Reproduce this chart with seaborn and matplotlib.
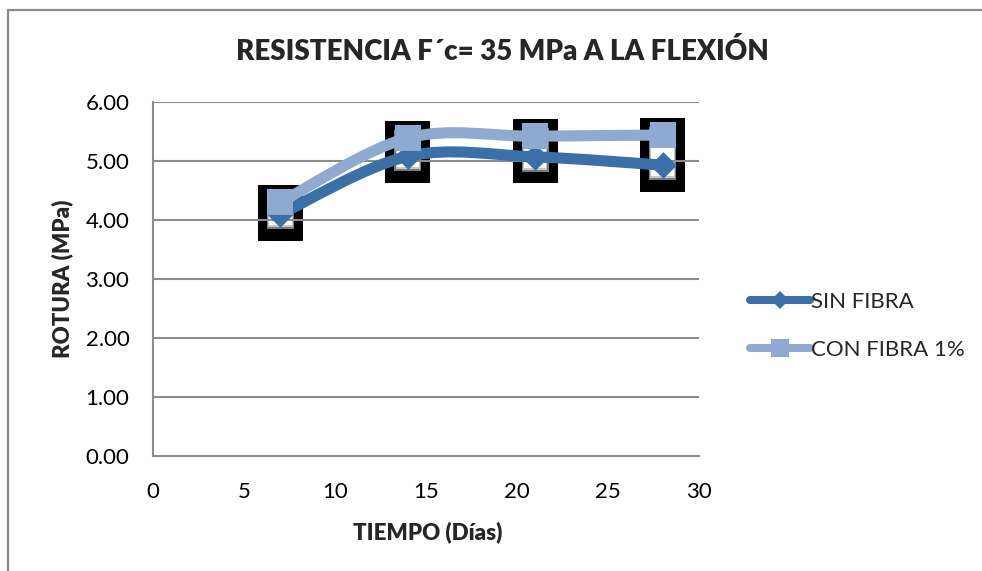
import numpy as np
import pandas as pd
import matplotlib
matplotlib.use("Agg")
import matplotlib.pyplot as plt
from matplotlib.path import Path
from matplotlib.patches import PathPatch, Rectangle
from matplotlib.lines import Line2D
import seaborn as sns

# Ensayo de flexión: días de curado y resistencia a la rotura (MPa)
dias = [7, 14, 21, 28]
sin_fibra = [4.10, 5.08, 5.07, 4.93]
con_fibra = [4.30, 5.39, 5.42, 5.44]
series_names = ["SIN FIBRA", "CON FIBRA 1%"]
x_ticks = [0, 5, 10, 15, 20, 25, 30]
y_ticks = [0, 1, 2, 3, 4, 5, 6]

COLOR_SIN = "#3A6FA8"
COLOR_CON = "#8FA9D1"
GRID = "#8C8C8C"

sns.set_theme(style="white")
plt.rcParams["font.family"] = ["Lato", "DejaVu Sans"]

df = pd.DataFrame({
    "dias": dias * 2,
    "rotura": sin_fibra + con_fibra,
    "serie": [series_names[0]] * len(dias) + [series_names[1]] * len(dias),
})


def smooth_path(xs, ys):
    """Cubic Bezier path through the points (Catmull-Rom style tangents)."""
    pts = np.column_stack([xs, ys]).astype(float)
    n = len(pts)
    verts = [pts[0]]
    codes = [Path.MOVETO]
    for i in range(n - 1):
        p0 = pts[i - 1] if i > 0 else pts[i]
        p1 = pts[i]
        p2 = pts[i + 1]
        p3 = pts[i + 2] if i + 2 < n else pts[i + 1]
        c1 = p1 + (p2 - p0) / 6.0
        c2 = p2 - (p3 - p1) / 6.0
        verts += [c1, c2, p2]
        codes += [Path.CURVE4] * 3
    return Path(verts, codes)


fig = plt.figure(figsize=(9.82, 5.71), dpi=100)
fig.patch.set_facecolor("white")
ax = fig.add_axes([153 / 982, 115 / 571, 546 / 982, 354 / 571])

# Outer chart frame
fig.patches.append(Rectangle((8 / 982, -0.2), 1.5, 1.2 - 10 / 571,
                             transform=fig.transFigure, fill=False,
                             edgecolor="#8A8A8A", linewidth=1.6))

# Up/down bars spanning both series at each age
lo = np.minimum(sin_fibra, con_fibra)
hi = np.maximum(sin_fibra, con_fibra)
bar_bottom = lo - 0.45
bar_height = (hi + 0.29) - bar_bottom
ax.bar(dias, bar_height, bottom=bar_bottom, width=2.47, color="black",
       linewidth=0, zorder=1)
for inset_x, inset_top, inset_bot, col in [(0.50, 0.15, 0.20, "#7a7a7a"),
                                           (0.56, 0.17, 0.23, "#c8c8c8"),
                                           (0.62, 0.19, 0.26, "white")]:
    ax.bar(dias, bar_height - inset_top - inset_bot,
           bottom=bar_bottom + inset_bot, width=2.47 - 2 * inset_x,
           color=col, linewidth=0, zorder=1.1)

# Horizontal gridlines
for yv in y_ticks[1:]:
    ax.axhline(yv, color=GRID, linewidth=1.5, zorder=1.5)

# Smoothed series lines
ax.add_patch(PathPatch(smooth_path(dias, sin_fibra), fill=False,
                       edgecolor=COLOR_SIN, linewidth=8.0, capstyle="round",
                       joinstyle="round", zorder=3))
sns.scatterplot(data=df[df["serie"] == series_names[0]], x="dias", y="rotura",
                marker="D", s=185, color=COLOR_SIN, linewidth=0,
                legend=False, ax=ax, zorder=4)
ax.add_patch(PathPatch(smooth_path(dias, con_fibra), fill=False,
                       edgecolor=COLOR_CON, linewidth=8.0, capstyle="round",
                       joinstyle="round", zorder=5))
sns.scatterplot(data=df[df["serie"] == series_names[1]], x="dias", y="rotura",
                marker="s", s=377, color=COLOR_CON, linewidth=0,
                legend=False, ax=ax, zorder=6)

ax.set_xlim(0, 30)
ax.set_ylim(0, 6)
ax.set_xticks(x_ticks)
ax.set_xticklabels([str(v) for v in x_ticks])
ax.set_yticks(y_ticks)
ax.set_yticklabels([f"{v:.2f}" for v in y_ticks])
ax.tick_params(axis="both", length=0, labelsize=16, colors="black")
ax.tick_params(axis="y", pad=17)
ax.tick_params(axis="x", pad=19)

for side in ["top", "right"]:
    ax.spines[side].set_visible(False)
for side in ["left", "bottom"]:
    ax.spines[side].set_color(GRID)
    ax.spines[side].set_linewidth(1.5)
ax.grid(False)

ax.set_xlabel("TIEMPO (Días)", fontsize=16, fontweight="heavy", va="center")
ax.set_ylabel("ROTURA (MPa)", fontsize=16, fontweight="heavy", va="center")
ax.xaxis.set_label_coords((428 - 153) / 546, (456 - 532) / 354)
ax.yaxis.set_label_coords((62 - 153) / 546, 0.5)

fig.text(502 / 982, 1 - 52 / 571, "RESISTENCIA F´c= 35 MPa A LA FLEXIÓN",
         ha="center", va="center", fontsize=20, fontweight="heavy")

handles = [
    Line2D([], [], color=COLOR_SIN, linewidth=5.8, marker="D", markersize=9,
           markeredgewidth=0, solid_capstyle="round"),
    Line2D([], [], color=COLOR_CON, linewidth=5.8, marker="s", markersize=13,
           markeredgewidth=0, solid_capstyle="round"),
]
leg = fig.legend(handles, series_names, loc="center left",
                 bbox_to_anchor=(750 / 982, 1 - 326 / 571),
                 bbox_transform=fig.transFigure, frameon=False,
                 fontsize=16, handlelength=2.7, handletextpad=0.05,
                 labelspacing=1.25, borderpad=0, borderaxespad=0)

fig.savefig("out.png", dpi=100, facecolor="white")
